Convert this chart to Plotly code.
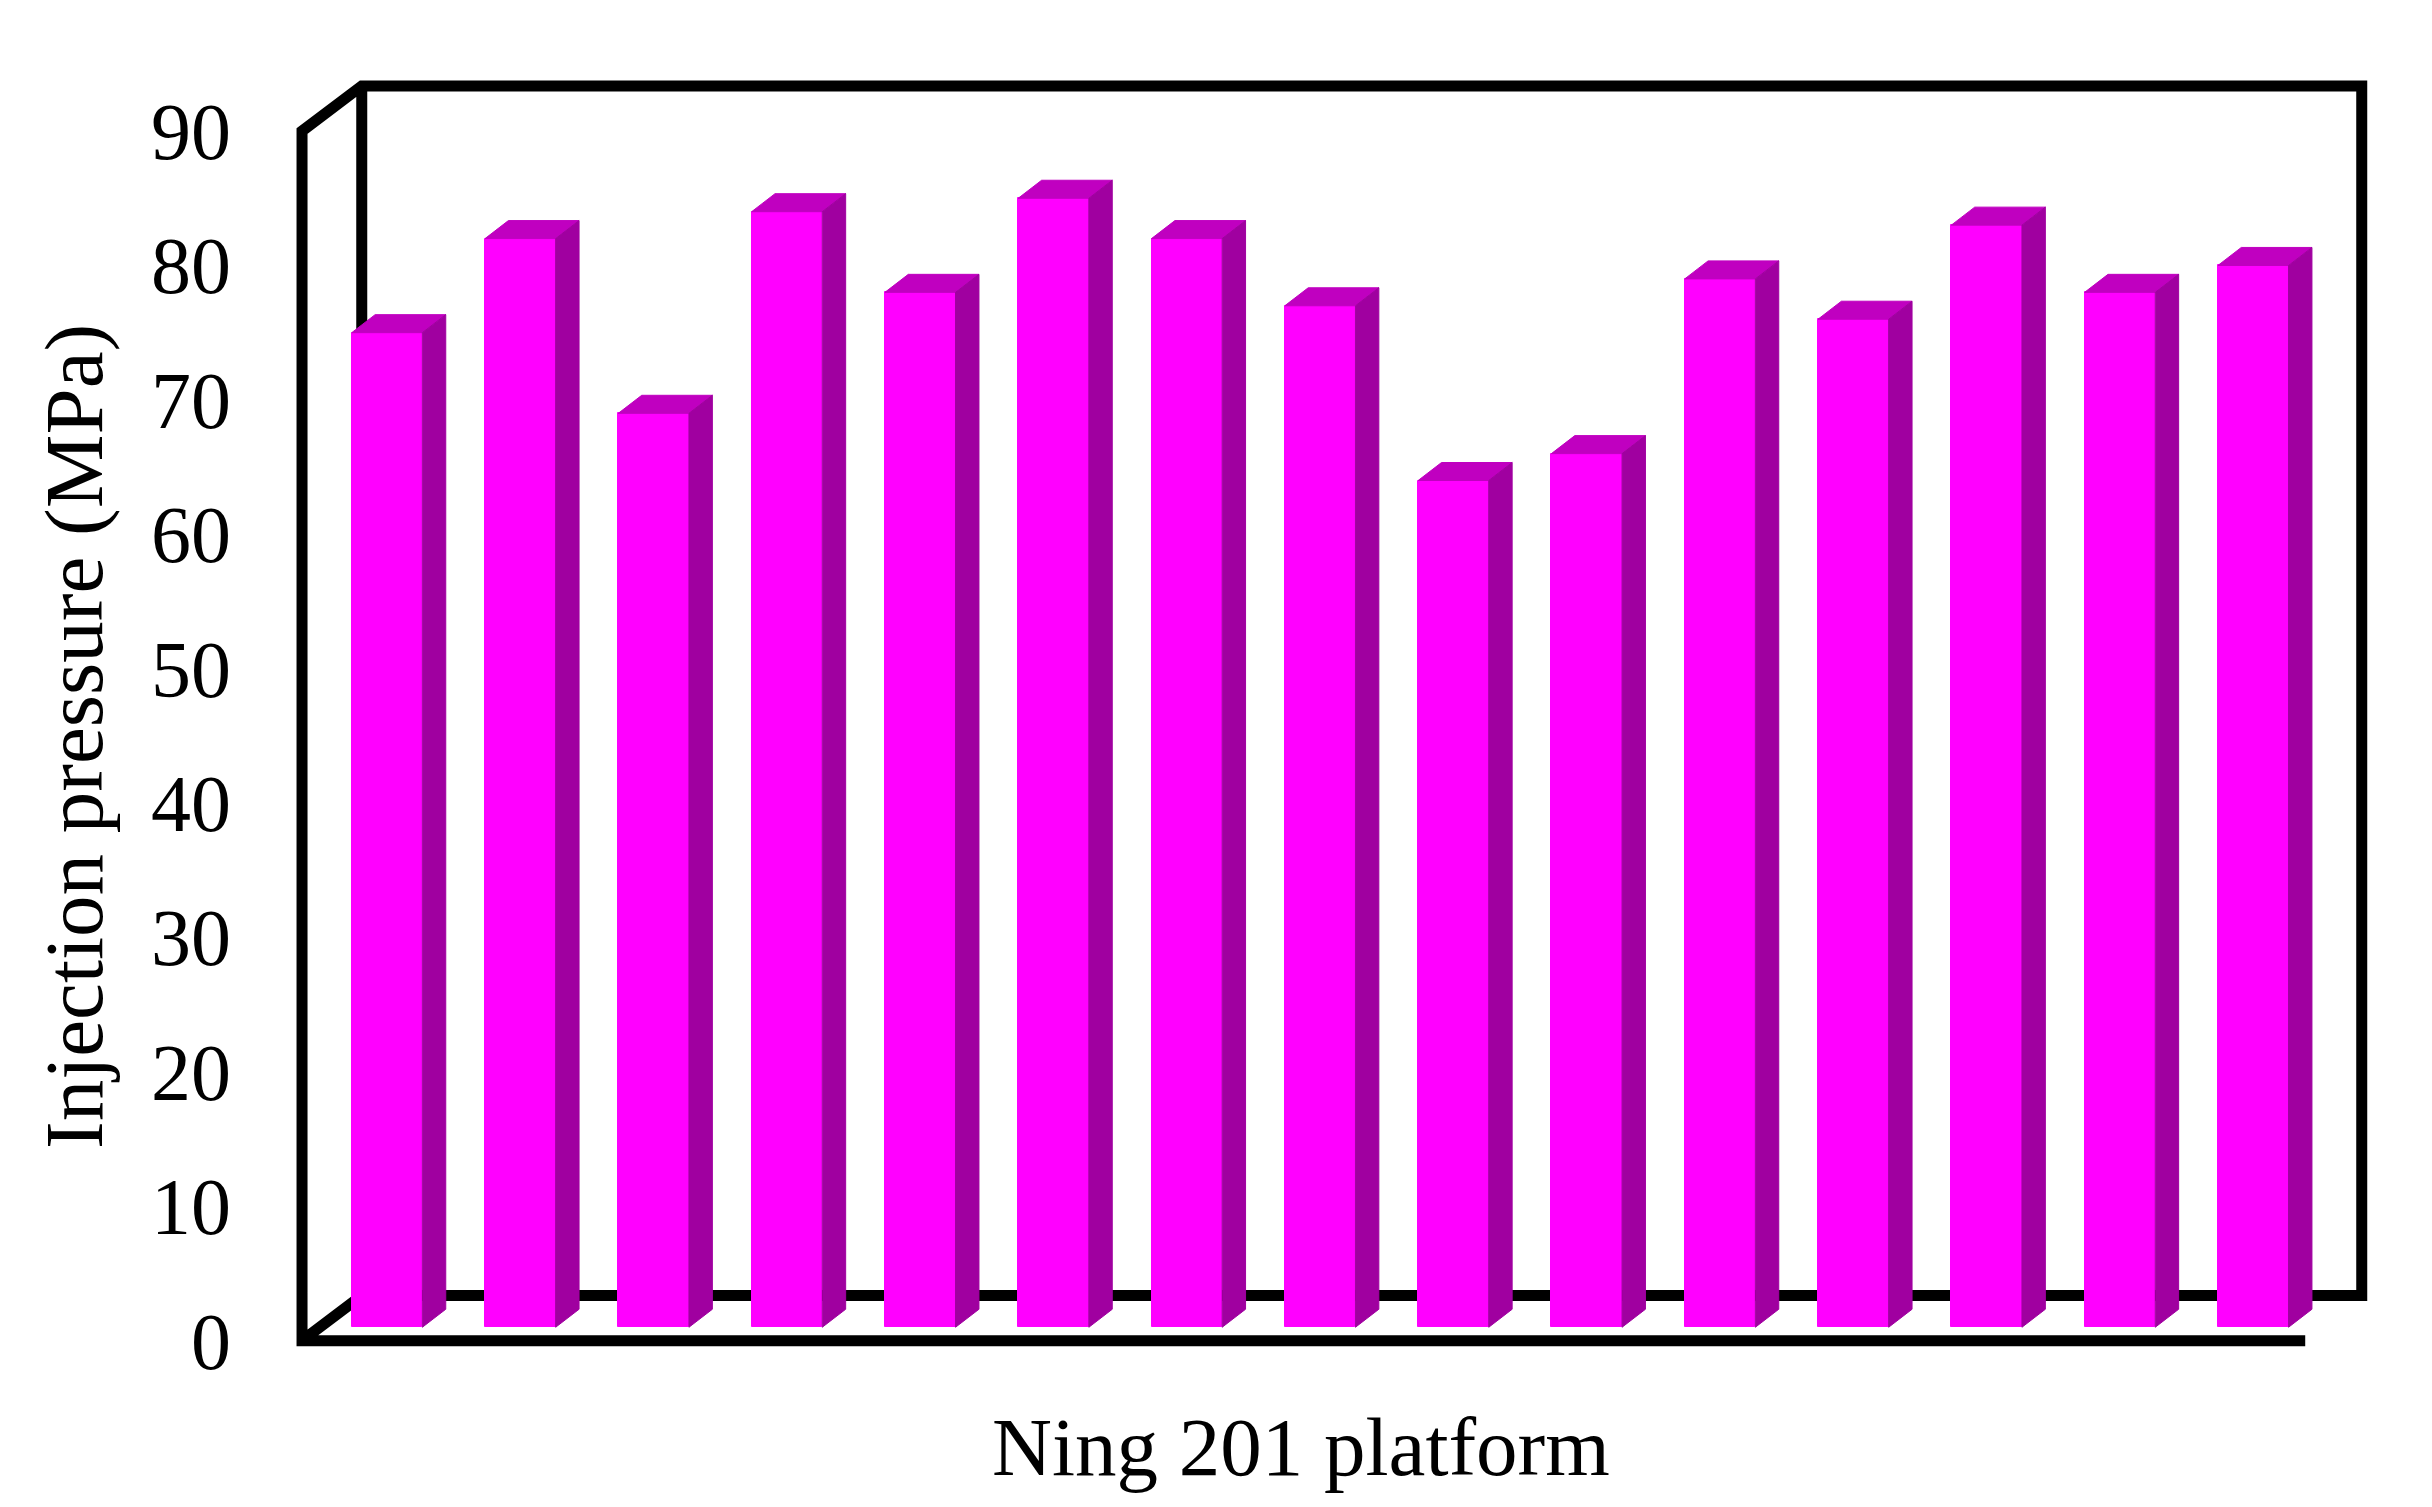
import plotly.graph_objects as go

# --- data ---
platforms = list(range(1, 16))
injection_pressure = [75, 82, 69, 84, 78, 85, 82, 77, 64, 66, 79, 76, 83, 78, 80]
y_ticks = [0, 10, 20, 30, 40, 50, 60, 70, 80, 90]
y_title = "Injection pressure (MPa)"
x_title = "Ning 201 platform"

# --- pseudo-3D geometry, in axis units ---
BAR_WIDTH = 0.53
BAR_FLOOR = 1.0        # front face is set back from the front plane
DEPTH_X, DEPTH_Y = 0.1755, 1.34   # bar depth
WALL_X, WALL_Y = 0.448, 3.36      # depth of the frame
FRONT_X = -0.6377
RIGHT = 14.814
END_X = 14.39
TOP = 90

FRONT = "#FF00FF"
TOP_FACE = "#C000C0"
SIDE_FACE = "#A000A0"
FONT = "Liberation Serif"

x0 = [p - 1 for p in platforms]

def polygons(kind):
    xs, ys = [], []
    for x, v in zip(x0, injection_pressure):
        l, r = x - BAR_WIDTH / 2, x + BAR_WIDTH / 2
        if kind == "top":
            xs += [l, r, r + DEPTH_X, l + DEPTH_X, l, None]
            ys += [v, v, v + DEPTH_Y, v + DEPTH_Y, v, None]
        else:
            xs += [r, r + DEPTH_X, r + DEPTH_X, r, r, None]
            ys += [BAR_FLOOR, BAR_FLOOR + DEPTH_Y, v + DEPTH_Y, v, BAR_FLOOR, None]
    return xs, ys

fig = go.Figure()
fig.add_trace(go.Bar(
    x=x0, y=[v - BAR_FLOOR for v in injection_pressure], base=BAR_FLOOR,
    width=BAR_WIDTH, marker=dict(color=FRONT, line=dict(width=1, color=FRONT)), showlegend=False,
))
for kind, colour in (("top", TOP_FACE), ("side", SIDE_FACE)):
    xs, ys = polygons(kind)
    fig.add_trace(go.Scatter(
        x=xs, y=ys, mode="lines", fill="toself", fillcolor=colour,
        line=dict(width=1, color=colour), showlegend=False, hoverinfo="skip",
    ))

BX, BY = FRONT_X + WALL_X, WALL_Y
frame = (
    f"M {END_X} 0 L {FRONT_X} 0 L {FRONT_X} {TOP} L {BX} {TOP + BY} L {RIGHT} {TOP + BY} "
    f"L {RIGHT} {BY} L {BX} {BY} L {FRONT_X} 0 M {BX} {BY} L {BX} {TOP + BY}"
)
fig.add_shape(type="path", path=frame, layer="below", line=dict(color="black", width=11))

fig.update_layout(
    width=2432, height=1507, paper_bgcolor="white", plot_bgcolor="white",
    margin=dict(l=274, r=58, t=58, b=155),
    bargap=0, showlegend=False,
    font=dict(family=FONT, color="black"),
    xaxis=dict(range=[-0.788, 14.966], visible=False),
    yaxis=dict(range=[-1.436, 94.84], tickvals=y_ticks, showgrid=False, zeroline=False,
               showline=False, ticks="", ticklabelstandoff=50,
               tickfont=dict(family=FONT, size=80, color="black")),
    annotations=[
        dict(text=x_title, xref="paper", yref="paper", x=(1301 - 282) / 2100, y=(1360 - 1447) / 1294,
             showarrow=False, xanchor="center", yanchor="middle",
             font=dict(family=FONT, size=83, color="black")),
        dict(text=y_title, xref="paper", yref="paper", x=(74 - 282) / 2100, y=(1360 - 737) / 1294,
             textangle=-90, showarrow=False, xanchor="center", yanchor="middle",
             font=dict(family=FONT, size=83, color="black")),
    ],
)
fig.write_html("out.html")
